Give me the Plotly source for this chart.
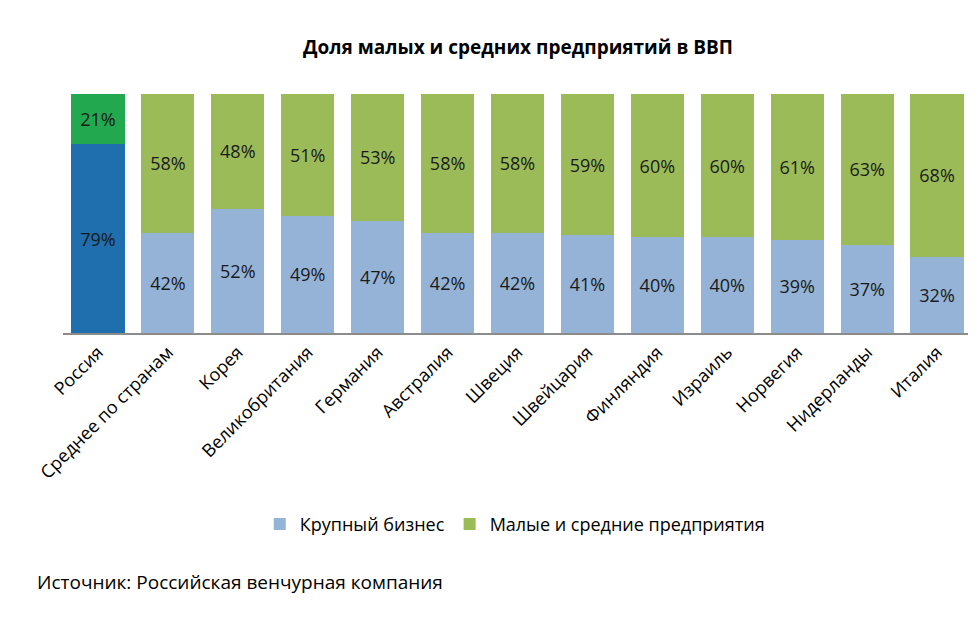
import plotly.graph_objects as go

categories = ["Россия", "Среднее по странам", "Корея", "Великобритания", "Германия",
              "Австралия", "Швеция", "Швейцария", "Финляндия", "Израиль",
              "Норвегия", "Нидерланды", "Италия"]
large_business = [79, 42, 52, 49, 47, 42, 42, 41, 40, 40, 39, 37, 32]
sme = [21, 58, 48, 51, 53, 58, 58, 59, 60, 60, 61, 63, 68]

FONT = "Open Sans"
LB_COLOR = "#95B3D7"
SME_COLOR = "#9BBB59"
RU_LB = "#1F6EAD"
RU_SME = "#22A84E"

fig = go.Figure()

# Russia highlighted
fig.add_trace(go.Bar(x=categories[:1], y=large_business[:1], marker_color=RU_LB,
                     text=[f"{v}%" for v in large_business[:1]], showlegend=False,
                     legendgroup="lb", name="Крупный бизнес"))
fig.add_trace(go.Bar(x=categories[1:], y=large_business[1:], marker_color=LB_COLOR,
                     text=[f"{v}%" for v in large_business[1:]],
                     legendgroup="lb", name="Крупный бизнес"))
fig.add_trace(go.Bar(x=categories[:1], y=sme[:1], marker_color=RU_SME,
                     text=[f"{v}%" for v in sme[:1]], showlegend=False,
                     legendgroup="sme", name="Малые и средние предприятия"))
fig.add_trace(go.Bar(x=categories[1:], y=sme[1:], marker_color=SME_COLOR,
                     text=[f"{v}%" for v in sme[1:]],
                     legendgroup="sme", name="Малые и средние предприятия"))

fig.update_traces(textposition="inside", insidetextanchor="middle",
                  textfont=dict(family=FONT, size=18, color="#1a1a1a"),
                  marker_line_width=0, hoverinfo="skip")

# page body has an 8px margin: figure is drawn at (8, 8)
W, H = 968, 624
fig.update_layout(
    barmode="stack",
    bargap=0.24,
    width=W, height=H,
    margin=dict(l=55, r=4, t=86, b=299, autoexpand=False),
    paper_bgcolor="white", plot_bgcolor="white",
    font=dict(family=FONT, size=15, color="#000000"),
    title=dict(text="<b>Доля малых и средних предприятий в ВВП</b>",
               x=510 / W, xanchor="center", y=1 - 39 / H, yanchor="middle",
               font=dict(family=FONT, size=19, color="#000000")),
    uniformtext=dict(mode=False),
    legend=dict(orientation="h", x=0.497, xanchor="center", y=-0.80, yanchor="middle",
                font=dict(family=FONT, size=18), traceorder="normal",
                itemwidth=30, bgcolor="rgba(0,0,0,0)"),
    xaxis=dict(tickangle=-45, showline=True, linecolor="#8c8c8c", linewidth=1.5,
               ticks="", tickfont=dict(family=FONT, size=18, color="#000000"),
               showgrid=False, automargin=False),
    yaxis=dict(range=[0, 100], visible=False, showgrid=False, automargin=False),
    annotations=[dict(text="Источник: Российская венчурная компания",
                      xref="paper", yref="paper", x=-0.031, y=-1.04,
                      xanchor="left", yanchor="middle", showarrow=False,
                      font=dict(family=FONT, size=19, color="#000000"))],
)

fig.write_html("out.html")
